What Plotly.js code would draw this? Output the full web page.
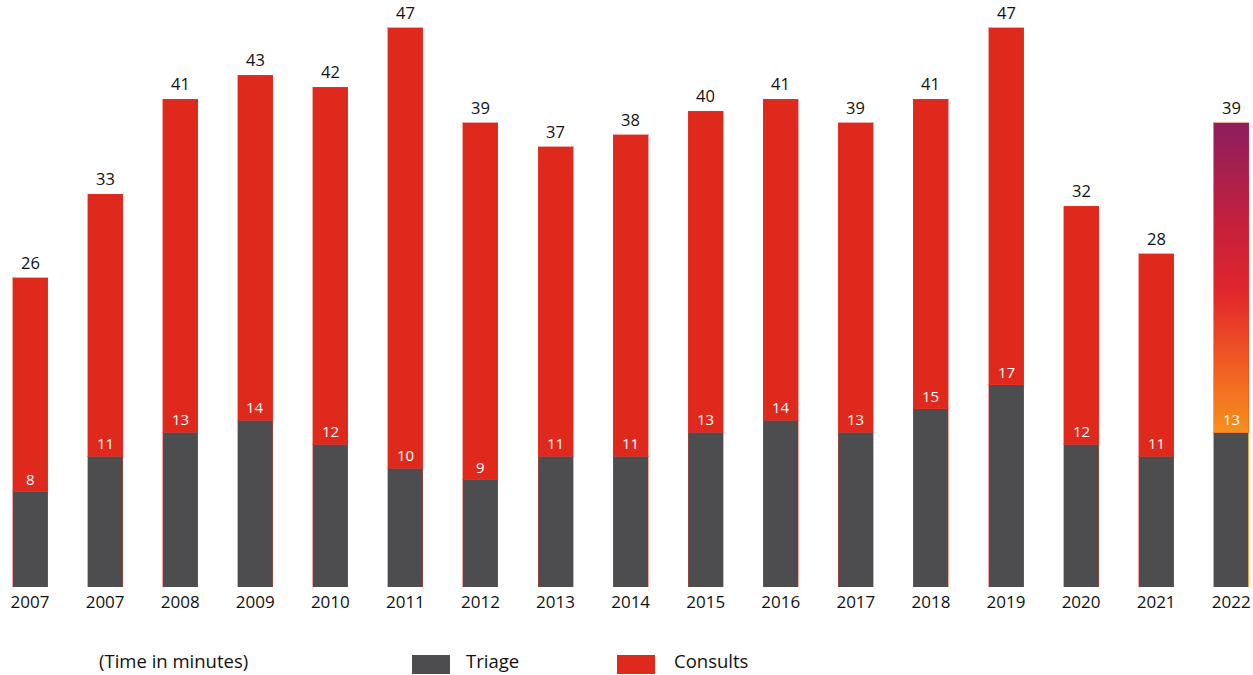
<!DOCTYPE html>
<html><head><meta charset="utf-8">
<script src="https://cdn.plot.ly/plotly-3.0.1.min.js"></script>
<style>html,body{margin:0;padding:0;background:#fff}#chart{width:1253px;height:675px}</style>
</head><body><div id="chart"></div>
<script>
const years = ["2007","2007","2008","2009","2010","2011","2012","2013","2014","2015","2016","2017","2018","2019","2020","2021","2022"];
const totals = [26,33,41,43,42,47,39,37,38,40,41,39,41,47,32,28,39];
const triage = [8,11,13,14,12,10,9,11,11,13,14,13,15,17,12,11,13];
const consults = totals.map((t,i)=>t-triage[i]);

const FONT = "Open Sans, Noto Sans, sans-serif";
const idx = years.map((_,i)=>i);
const BW = 0.466;
const last = years.length-1;

const lineColors = idx.map(i => i===last ? '#F2A23A' : 'rgba(226,60,50,0.45)');

const traces = [
  {type:'bar', x:idx, y:triage, width:BW, name:'Triage', marker:{color:'#4D4D4F', line:{color:lineColors, width:1}}, hoverinfo:'skip'},
  {type:'bar', x:idx, y:consults, width:BW, name:'Consults', marker:{color:'#E0291D', line:{color:'rgba(226,60,50,0.45)', width:1}}, hoverinfo:'skip'},
  {type:'scatter', mode:'lines', x:[last-BW/2, last+BW/2, last+BW/2, last-BW/2, last-BW/2],
   y:[triage[last], triage[last], totals[last], totals[last], triage[last]],
   fill:'toself', line:{width:0, color:'rgba(0,0,0,0)'},
   fillgradient:{type:'vertical', start:triage[last], stop:totals[last],
     colorscale:[[0,'#F7901E'],[0.18,'#F26522'],[0.45,'#E2262B'],[0.7,'#C0203F'],[1,'#8E1E5F']]},
   hoverinfo:'skip', showlegend:false}
];

const annotations = [];
idx.forEach(i=>{
  annotations.push({x:i, y:totals[i], xref:'x', yref:'y', text:String(totals[i]), showarrow:false, yanchor:'bottom', yshift:2, font:{family:FONT, size:16.5, color:'#111'}});
  annotations.push({x:i, y:triage[i], xref:'x', yref:'y', text:String(triage[i]), showarrow:false, yanchor:'bottom', yshift:1, font:{family:FONT, size:15, color:'#fff'}});
});
// legend
const LF = {family:FONT, size:18.5, color:'#111'};
annotations.push({x:97, y:661, xref:'paper', yref:'paper', text:'(Time in minutes)', showarrow:false, xanchor:'left', yanchor:'middle', font:LF});
annotations.push({x:464, y:661, xref:'paper', yref:'paper', text:'Triage', showarrow:false, xanchor:'left', yanchor:'middle', font:LF});
annotations.push({x:672, y:661, xref:'paper', yref:'paper', text:'Consults', showarrow:false, xanchor:'left', yanchor:'middle', font:LF});

const W=1253, H=675, MB=88, MT=0, ML=0, MR=0;
const PW = W-ML-MR, PH = H-MT-MB;
annotations.forEach(a=>{ if(a.xref==='paper'){ a.x = (a.x-ML)/PW; a.y = (H-MB-a.y)/PH; }});
const px = v => (v-ML)/PW, py = v => (H-MB-v)/PH;
const shapes = [
  {type:'rect', xref:'paper', yref:'paper', x0:px(412), x1:px(450), y0:py(674), y1:py(655), fillcolor:'#4D4D4F', line:{width:0}},
  {type:'rect', xref:'paper', yref:'paper', x0:px(617), x1:px(655), y0:py(674), y1:py(655), fillcolor:'#E0291D', line:{width:0}}
];

const layout = {
  width:W, height:H, margin:{l:ML, r:MR, t:MT, b:MB},
  paper_bgcolor:'#fff', plot_bgcolor:'#fff',
  barmode:'stack', showlegend:false,
  xaxis:{range:[-0.4, 16.29], tickvals:idx, ticktext:years, showgrid:false, zeroline:false, showline:false, ticks:'', ticklabelstandoff:3, tickfont:{family:FONT, size:17, color:'#111'}},
  yaxis:{range:[0, 587/11.9], visible:false, showgrid:false, zeroline:false, fixedrange:true},
  annotations, shapes
};
Plotly.newPlot('chart', traces, layout, {displayModeBar:false, staticPlot:true});
</script></body></html>
